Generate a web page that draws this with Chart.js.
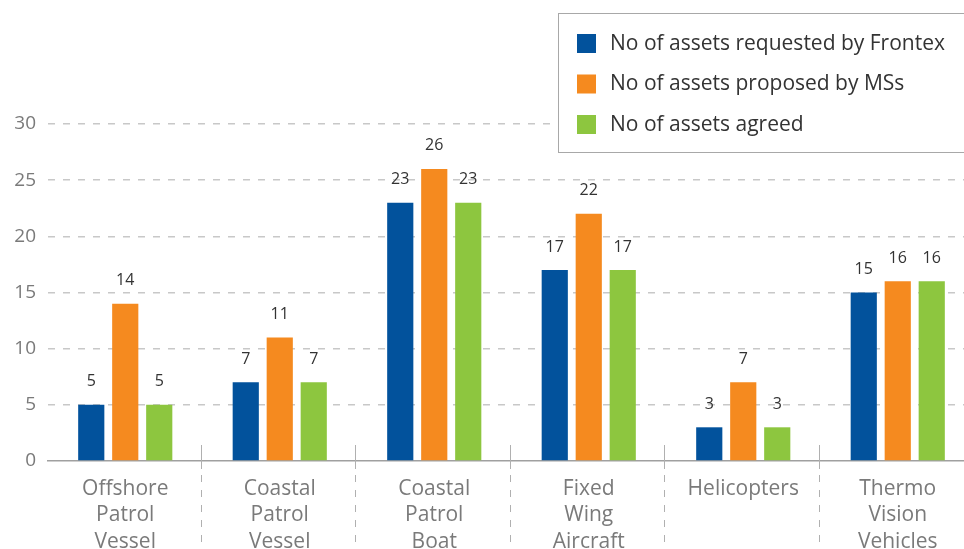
<!DOCTYPE html>
<html><head><meta charset="utf-8">
<script src="https://cdn.jsdelivr.net/npm/chart.js@4.4.0/dist/chart.umd.min.js"></script>
<style>html,body{margin:0;padding:0;overflow:hidden;background:#fff;width:964px;height:549px}#wrap{width:980px;height:549px;position:relative}</style>
</head><body><div id="wrap"><canvas id="c" width="980" height="549"></canvas></div>
<script>
const categories = [["Offshore","Patrol","Vessel"],["Coastal","Patrol","Vessel"],["Coastal","Patrol","Boat"],["Fixed","Wing","Aircraft"],["Helicopters"],["Thermo","Vision","Vehicles"]];
const seriesNames = ["No of assets requested by Frontex","No of assets proposed by MSs","No of assets agreed"];
const requested = [5, 7, 23, 17, 3, 15];
const proposed = [14, 11, 26, 22, 7, 16];
const agreed = [5, 7, 23, 17, 3, 16];
const yTicks = [0, 5, 10, 15, 20, 25, 30];
const colors = ["#02529c", "#f58a1f", "#8dc63f"];
const FONT = "'Open Sans', sans-serif";

const valueLabels = {
  id: 'valueLabels',
  afterDatasetsDraw(chart) {
    const ctx = chart.ctx;
    ctx.save();
    ctx.font = "16px " + FONT;
    ctx.fillStyle = "#333";
    ctx.textAlign = "center";
    ctx.textBaseline = "middle";
    chart.data.datasets.forEach((ds, i) => {
      chart.getDatasetMeta(i).data.forEach((bar, j) => {
        ctx.fillText(String(ds.data[j]), bar.x, bar.y - 23);
      });
    });
    ctx.restore();
  }
};

const separators = {
  id: 'separators',
  afterDraw(chart) {
    const ctx = chart.ctx, x = chart.scales.x, y = chart.scales.y;
    const bottom = y.getPixelForValue(0);
    ctx.save();
    ctx.strokeStyle = "#b0b0b0";
    ctx.lineWidth = 1;
    for (let i = 1; i < categories.length; i++) {
      const px = Math.round((x.getPixelForTick(i - 1) + x.getPixelForTick(i)) / 2) - 1.5;
      ctx.setLineDash([]);
      ctx.beginPath(); ctx.moveTo(px, bottom - 16); ctx.lineTo(px, bottom + 8); ctx.stroke();
      ctx.setLineDash([7, 8]);
      ctx.beginPath(); ctx.moveTo(px, bottom + 14); ctx.lineTo(px, chart.height); ctx.stroke();
    }
    ctx.setLineDash([]);
    // legend box
    const lx = 558.5, ly = 13.5;
    ctx.fillStyle = "#fff";
    ctx.fillRect(lx, ly, 440, 139);
    ctx.strokeStyle = "#a8a8a8";
    ctx.strokeRect(lx, ly, 440, 139);
    ctx.font = "21px " + FONT;
    ctx.textBaseline = "middle";
    ctx.textAlign = "left";
    chart.data.datasets.forEach((ds, i) => {
      const cy = 44 + i * 40.5;
      ctx.fillStyle = ds.backgroundColor;
      ctx.fillRect(577, cy - 10, 19, 19);
      ctx.fillStyle = "#333";
      ctx.fillText(ds.label, 610, cy);
    });
    ctx.restore();
  }
};

new Chart(document.getElementById('c'), {
  type: 'bar',
  data: {
    labels: categories,
    datasets: [
      { label: seriesNames[0], data: requested, backgroundColor: colors[0] },
      { label: seriesNames[1], data: proposed, backgroundColor: colors[1] },
      { label: seriesNames[2], data: agreed, backgroundColor: colors[2] }
    ]
  },
  options: {
    responsive: false,
    animation: false,
    devicePixelRatio: 1,
    layout: { padding: { top: 124, left: 2, right: 5, bottom: 0 } },
    datasets: { bar: { categoryPercentage: 0.66, barPercentage: 0.77 } },
    plugins: { legend: { display: false }, tooltip: { enabled: false } },
    scales: {
      x: {
        grid: { display: false, drawTicks: false },
        border: { color: "#a0a0a0", width: 1.5 },
        ticks: { color: "#7a7a7a", font: { family: FONT, size: 21, lineHeight: 1.25 }, padding: 15, maxRotation: 0, autoSkip: false },
        afterFit(s) { s.height = 88; }
      },
      y: {
        min: 0, max: 30,
        afterBuildTicks(s) { s.ticks = yTicks.map(v => ({ value: v })); },
        grid: { color: (c) => c.tick.value === 0 ? "rgba(0,0,0,0)" : "#c8c8c8", drawTicks: false, lineWidth: 1.5 },
        border: { display: false, dash: [7, 8] },
        ticks: { color: "#7a7a7a", font: { family: FONT, size: 19 }, padding: 12 },
        afterFit(s) { s.width = 46; }
      }
    }
  },
  plugins: [valueLabels, separators]
});
</script></body></html>
